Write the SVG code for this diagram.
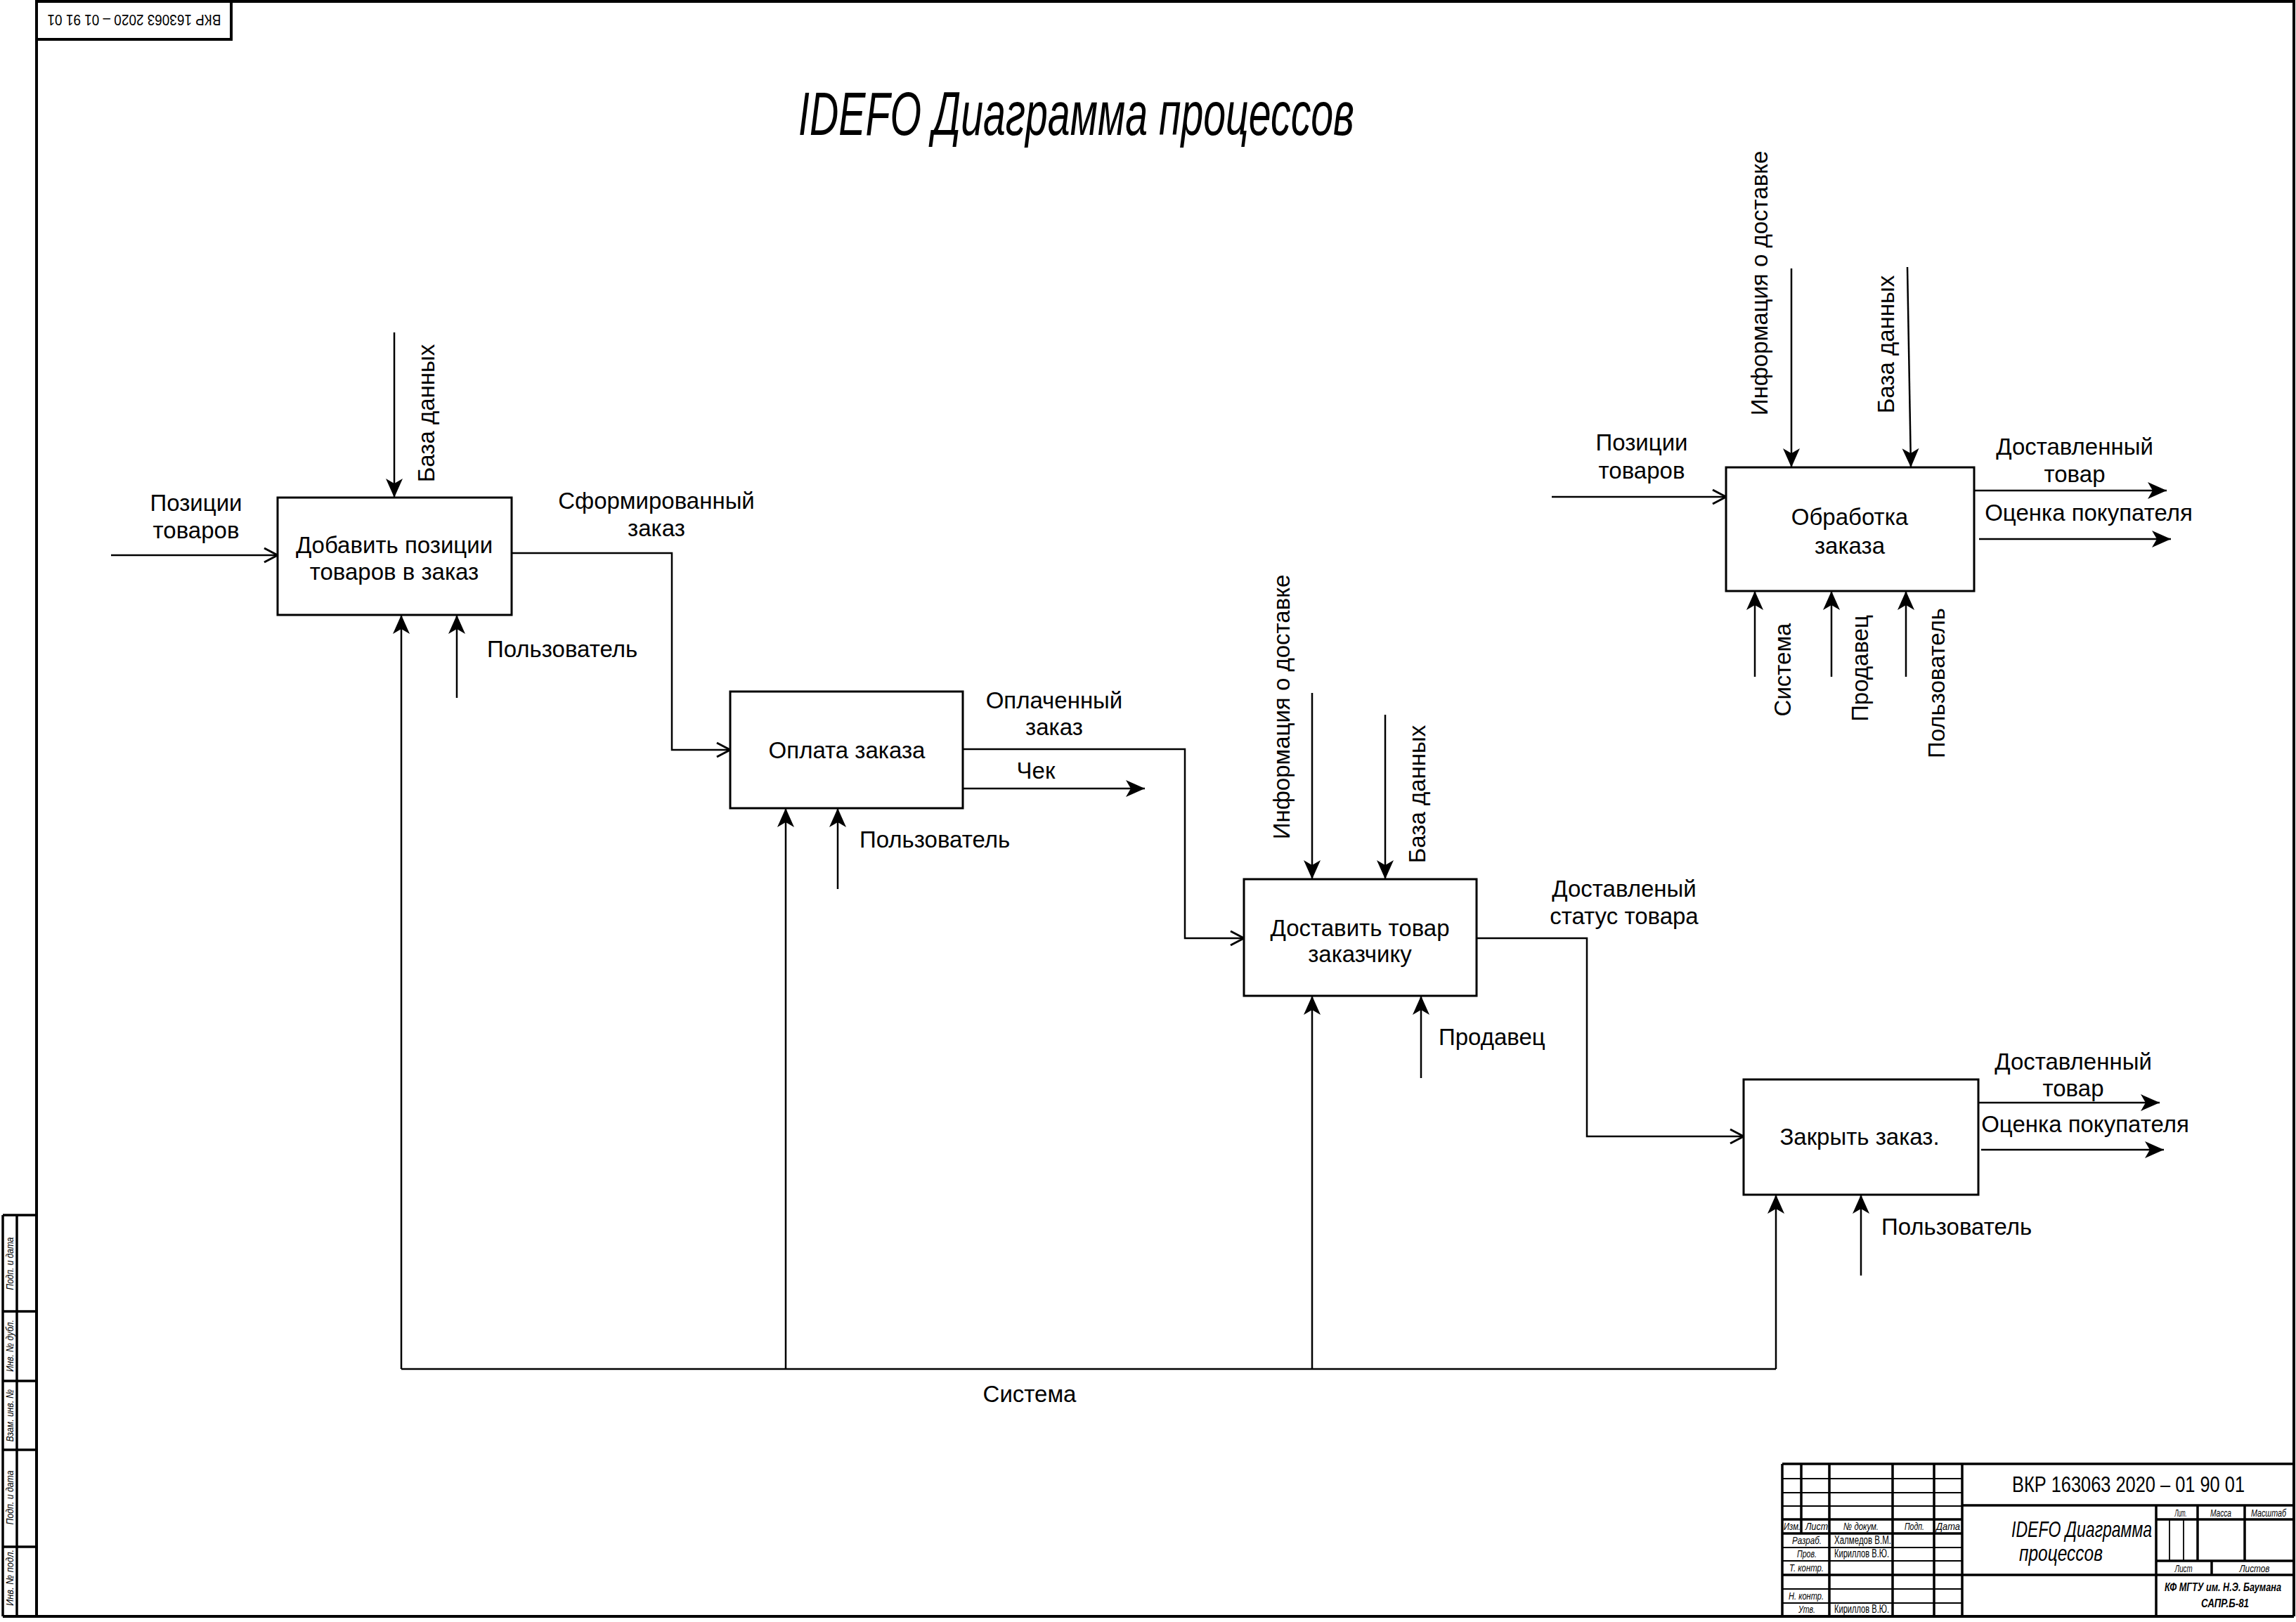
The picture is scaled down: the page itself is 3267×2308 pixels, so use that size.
<svg xmlns="http://www.w3.org/2000/svg" width="3267" height="2308" viewBox="0 0 3267 2308">
<style>
.box{fill:#fff;stroke:#000;stroke-width:3}
.ln{fill:none;stroke:#000;stroke-width:2.5}
.t{font-family:"Liberation Sans",Arial,sans-serif;font-size:33px;fill:#000}
.c{text-anchor:middle}
.g{font-family:"Liberation Sans",Arial,sans-serif;font-style:italic;fill:#000}
.gu{font-family:"Liberation Sans",Arial,sans-serif;fill:#000}
.fr{fill:none;stroke:#000;stroke-width:4}
.thk{fill:none;stroke:#000;stroke-width:3.5}
.thn{fill:none;stroke:#000;stroke-width:1.8}
</style>
<defs>
<marker id="fa" markerUnits="userSpaceOnUse" markerWidth="30" markerHeight="26" refX="27" refY="12" orient="auto" overflow="visible"><path d="M0,0 L27,12 L0,24 L7,12 Z" fill="#000"/></marker>
<marker id="oa" markerUnits="userSpaceOnUse" markerWidth="24" markerHeight="26" refX="20" refY="11" orient="auto" overflow="visible"><path d="M1,1 L20,11 L1,21" fill="none" stroke="#000" stroke-width="3"/></marker>
</defs>
<rect width="3267" height="2308" fill="#fff"/>

<g id="frame">
<path class="fr" d="M52,0 V2300 M52,2 H3264 V2300 M4,2300 H3264"/>
<rect class="fr" x="52" y="2" width="277" height="54"/>
<text class="gu c" font-size="22" textLength="247" lengthAdjust="spacingAndGlyphs" transform="translate(191,29) rotate(180)" y="8">ВКР 163063 2020 – 01 91 01</text>
</g>

<g id="margin">
<path class="thk" d="M4,1729 H52 M4,1729 V2300 M24,1729 V2300 M4,1866 H52 M4,1965 H52 M4,2063 H52 M4,2201 H52"/>
<text class="g c" font-size="15" textLength="75" lengthAdjust="spacingAndGlyphs" transform="translate(19,1798) rotate(-90)">Подп. и дата</text>
<text class="g c" font-size="15" textLength="74" lengthAdjust="spacingAndGlyphs" transform="translate(19,1915) rotate(-90)">Инв. № дубл.</text>
<text class="g c" font-size="15" textLength="75" lengthAdjust="spacingAndGlyphs" transform="translate(19,2014) rotate(-90)">Взам. инв. №</text>
<text class="g c" font-size="15" textLength="77" lengthAdjust="spacingAndGlyphs" transform="translate(19,2131) rotate(-90)">Подп. и дата</text>
<text class="g c" font-size="15" textLength="80" lengthAdjust="spacingAndGlyphs" transform="translate(19,2245) rotate(-90)">Инв. № подл.</text>
</g>

<g id="title">
<text class="g" x="1136" y="192" font-size="88" textLength="791" lengthAdjust="spacingAndGlyphs">IDEFO Диаграмма процессов</text>
</g>

<g id="titleblock">
<path class="thk" d="M2536,2083 H3264 M2536,2083 V2300 M2536,2162 H2792 M2536,2182 H2792 M2536,2241 H3264 M2603,2083 V2300 M2693,2083 V2300 M2752,2083 V2300 M2792,2083 V2300 M3068,2142 V2300 M2792,2142 H3264 M3068,2162 H3264 M3068,2221 H3264 M3127,2142 V2221 M3194,2142 V2221 M3147,2221 V2241 M2563,2083 V2182"/>
<path class="thn" d="M2536,2104 H2792 M2536,2124 H2792 M2536,2143 H2792 M2536,2202 H2792 M2536,2221 H2792 M2536,2261 H2792 M2536,2281 H2792 M3087,2162 V2221 M3107,2162 V2221"/>
<text class="g c" x="2550" y="2177" font-size="15" textLength="24" lengthAdjust="spacingAndGlyphs">Изм.</text>
<text class="g c" x="2585" y="2177" font-size="15" textLength="32" lengthAdjust="spacingAndGlyphs">Лист</text>
<text class="g c" x="2648" y="2177" font-size="15" textLength="50" lengthAdjust="spacingAndGlyphs">№ докум.</text>
<text class="g c" x="2724" y="2177" font-size="15" textLength="28" lengthAdjust="spacingAndGlyphs">Подп.</text>
<text class="g c" x="2772" y="2177" font-size="15" textLength="34" lengthAdjust="spacingAndGlyphs">Дата</text>
<text class="g c" x="2571" y="2197" font-size="15" textLength="42" lengthAdjust="spacingAndGlyphs">Разраб.</text>
<text class="gu" x="2610" y="2197" font-size="16" textLength="81" lengthAdjust="spacingAndGlyphs">Халмедов В.М.</text>
<text class="g c" x="2571" y="2216" font-size="15" textLength="28" lengthAdjust="spacingAndGlyphs">Пров.</text>
<text class="gu" x="2610" y="2216" font-size="16" textLength="78" lengthAdjust="spacingAndGlyphs">Кириллов В.Ю.</text>
<text class="g" x="2546" y="2236" font-size="15" textLength="49" lengthAdjust="spacingAndGlyphs">Т. контр.</text>
<text class="g" x="2545" y="2276" font-size="15" textLength="50" lengthAdjust="spacingAndGlyphs">Н. контр.</text>
<text class="g c" x="2571" y="2295" font-size="15" textLength="24" lengthAdjust="spacingAndGlyphs">Утв.</text>
<text class="gu" x="2610" y="2295" font-size="16" textLength="78" lengthAdjust="spacingAndGlyphs">Кириллов В.Ю.</text>
<text class="gu" x="2863" y="2123" font-size="31" textLength="331" lengthAdjust="spacingAndGlyphs">ВКР 163063 2020 – 01 90 01</text>
<text class="g" x="2862" y="2187" font-size="32" textLength="200" lengthAdjust="spacingAndGlyphs">IDEFO Диаграмма</text>
<text class="g" x="2873" y="2221" font-size="32" textLength="119" lengthAdjust="spacingAndGlyphs">процессов</text>
<text class="g c" x="3103" y="2158" font-size="15" textLength="17" lengthAdjust="spacingAndGlyphs">Лит.</text>
<text class="g c" x="3160" y="2158" font-size="15" textLength="30" lengthAdjust="spacingAndGlyphs">Масса</text>
<text class="g c" x="3228" y="2158" font-size="15" textLength="50" lengthAdjust="spacingAndGlyphs">Масштаб</text>
<text class="g c" x="3107" y="2237" font-size="15" textLength="25" lengthAdjust="spacingAndGlyphs">Лист</text>
<text class="g c" x="3208" y="2237" font-size="15" textLength="43" lengthAdjust="spacingAndGlyphs">Листов</text>
<text class="g c" x="3163" y="2264" font-size="17" font-weight="bold" textLength="166" lengthAdjust="spacingAndGlyphs">КФ МГТУ им. Н.Э. Баумана</text>
<text class="g c" x="3166" y="2287" font-size="17" font-weight="bold" textLength="68" lengthAdjust="spacingAndGlyphs">САПР.Б-81</text>
</g>

<g id="connectors">
<path class="ln" d="M158,790 H395" marker-end="url(#oa)"/>
<path class="ln" d="M561,473 V708" marker-end="url(#fa)"/>
<path class="ln" d="M728,787 H956 V1067 H1039" marker-end="url(#oa)"/>
<path class="ln" d="M650,993 V875" marker-end="url(#fa)"/>
<path class="ln" d="M571,1948 H2527"/>
<path class="ln" d="M571,1948 V875" marker-end="url(#fa)"/>
<path class="ln" d="M1118,1948 V1150" marker-end="url(#fa)"/>
<path class="ln" d="M1867,1948 V1417" marker-end="url(#fa)"/>
<path class="ln" d="M2527,1948 V1700" marker-end="url(#fa)"/>
<path class="ln" d="M1370,1066 H1686 V1335 H1770" marker-end="url(#oa)"/>
<path class="ln" d="M1370,1122 H1629" marker-end="url(#fa)"/>
<path class="ln" d="M1192,1265 V1150" marker-end="url(#fa)"/>
<path class="ln" d="M1867,986 V1251" marker-end="url(#fa)"/>
<path class="ln" d="M1971,1017 V1251" marker-end="url(#fa)"/>
<path class="ln" d="M2101,1335 H2258 V1617 H2481" marker-end="url(#oa)"/>
<path class="ln" d="M2022,1534 V1417" marker-end="url(#fa)"/>
<path class="ln" d="M2815,1569 H3073" marker-end="url(#fa)"/>
<path class="ln" d="M2819,1636 H3079" marker-end="url(#fa)"/>
<path class="ln" d="M2648,1815 V1700" marker-end="url(#fa)"/>
<path class="ln" d="M2208,707 H2456" marker-end="url(#oa)"/>
<path class="ln" d="M2549,382 V665" marker-end="url(#fa)"/>
<path class="ln" d="M2714,380 L2719,665" marker-end="url(#fa)"/>
<path class="ln" d="M2809,698 H3083" marker-end="url(#fa)"/>
<path class="ln" d="M2816,767 H3089" marker-end="url(#fa)"/>
<path class="ln" d="M2497,963 V841" marker-end="url(#fa)"/>
<path class="ln" d="M2606,963 V841" marker-end="url(#fa)"/>
<path class="ln" d="M2712,963 V841" marker-end="url(#fa)"/>
</g>

<g id="labels">
<text class="t c" x="279" y="727">Позиции</text>
<text class="t c" x="279" y="766">товаров</text>
<text class="t c" transform="translate(606,588) rotate(-90)" y="12">База данных</text>
<text class="t c" x="934" y="724">Сформированный</text>
<text class="t c" x="934" y="763">заказ</text>
<text class="t" x="693" y="935">Пользователь</text>
<text class="t c" x="1500" y="1008">Оплаченный</text>
<text class="t c" x="1500" y="1046">заказ</text>
<text class="t c" x="1474" y="1108">Чек</text>
<text class="t" x="1223" y="1206">Пользователь</text>
<text class="t c" transform="translate(1823,1006) rotate(-90)" y="12">Информация о доставке</text>
<text class="t c" transform="translate(2016,1130) rotate(-90)" y="12">База данных</text>
<text class="t c" x="2311" y="1276">Доставленый</text>
<text class="t c" x="2311" y="1315">статус товара</text>
<text class="t" x="2047" y="1487">Продавец</text>
<text class="t c" x="1465" y="1995">Система</text>
<text class="t c" x="2950" y="1522">Доставленный</text>
<text class="t c" x="2950" y="1560">товар</text>
<text class="t c" x="2967" y="1611">Оценка покупателя</text>
<text class="t" x="2677" y="1757">Пользователь</text>
<text class="t c" x="2336" y="641">Позиции</text>
<text class="t c" x="2336" y="681">товаров</text>
<text class="t c" transform="translate(2503,403) rotate(-90)" y="12">Информация о доставке</text>
<text class="t c" transform="translate(2683,490) rotate(-90)" y="12">База данных</text>
<text class="t c" x="2952" y="647">Доставленный</text>
<text class="t c" x="2952" y="686">товар</text>
<text class="t c" x="2972" y="741">Оценка покупателя</text>
<text class="t c" transform="translate(2536,953) rotate(-90)" y="12">Система</text>
<text class="t c" transform="translate(2646,951) rotate(-90)" y="12">Продавец</text>
<text class="t c" transform="translate(2755,972) rotate(-90)" y="12">Пользователь</text>
</g>

<g id="node-add">
<rect class="box" x="395" y="708" width="333" height="167"/>
<text class="t c" x="561" y="787">Добавить позиции</text>
<text class="t c" x="561" y="825">товаров в заказ</text>
</g>
<g id="node-pay">
<rect class="box" x="1039" y="984" width="331" height="166"/>
<text class="t c" x="1205" y="1079">Оплата заказа</text>
</g>
<g id="node-deliver">
<rect class="box" x="1770" y="1251" width="331" height="166"/>
<text class="t c" x="1935" y="1332">Доставить товар</text>
<text class="t c" x="1935" y="1369">заказчику</text>
</g>
<g id="node-close">
<rect class="box" x="2481" y="1536" width="334" height="164"/>
<text class="t c" x="2646" y="1629">Закрыть заказ.</text>
</g>
<g id="node-process">
<rect class="box" x="2456" y="665" width="353" height="176"/>
<text class="t c" x="2632" y="747">Обработка</text>
<text class="t c" x="2632" y="788">заказа</text>
</g>
</svg>
